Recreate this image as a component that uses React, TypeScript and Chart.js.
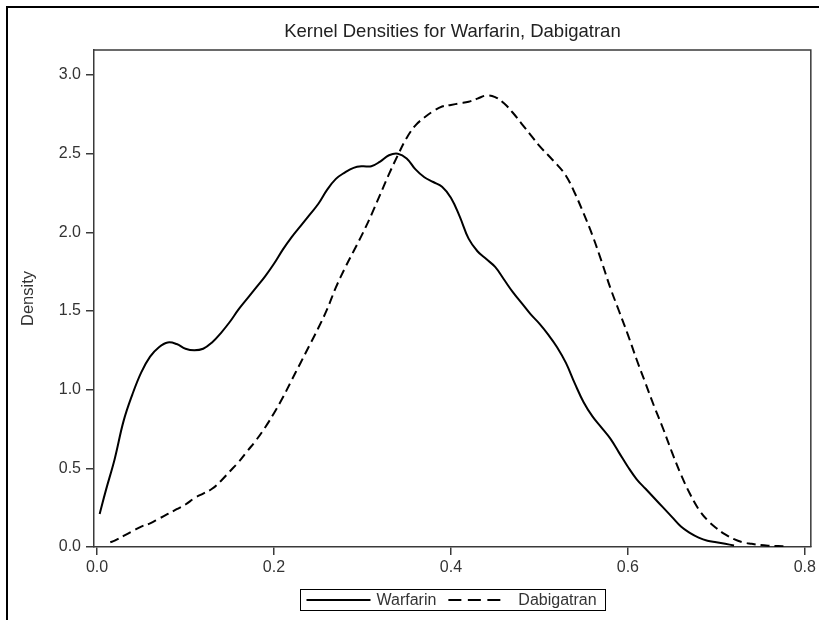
import React, { useEffect, useRef } from 'react';
import { Chart, registerables } from 'chart.js';

Chart.register(...registerables);

const titleText = 'Kernel Densities for Warfarin, Dabigatran';
const yAxisTitle = 'Density';
const seriesNames = ['Warfarin', 'Dabigatran'];
const xTicks = [0, 0.2, 0.4, 0.6, 0.8];
const yTicks = [0, 0.5, 1.0, 1.5, 2.0, 2.5, 3.0];

const warfarinX = [
  0.003, 0.01, 0.02, 0.03, 0.04, 0.05, 0.06, 0.07, 0.08, 0.09,
  0.10, 0.11, 0.12, 0.13, 0.14, 0.15, 0.16, 0.17, 0.18, 0.19,
  0.20, 0.21, 0.22, 0.23, 0.24, 0.25, 0.26, 0.27, 0.28, 0.29,
  0.30, 0.31, 0.32, 0.33, 0.34, 0.35, 0.36, 0.37, 0.38, 0.39,
  0.40, 0.41, 0.42, 0.43, 0.44, 0.45, 0.46, 0.47, 0.48, 0.49,
  0.50, 0.51, 0.52, 0.53, 0.54, 0.55, 0.56, 0.57, 0.58, 0.59,
  0.60, 0.61, 0.62, 0.63, 0.64, 0.65, 0.66, 0.67, 0.68, 0.69,
  0.70, 0.71, 0.72,
];
const warfarinY = [
  0.21, 0.36, 0.56, 0.80, 0.97, 1.11, 1.21, 1.27, 1.30, 1.29,
  1.26, 1.25, 1.26, 1.30, 1.36, 1.43, 1.51, 1.58, 1.65, 1.72,
  1.80, 1.89, 1.97, 2.04, 2.11, 2.18, 2.27, 2.34, 2.38, 2.41,
  2.42, 2.42, 2.45, 2.49, 2.50, 2.47, 2.40, 2.35, 2.32, 2.29,
  2.22, 2.10, 1.96, 1.88, 1.83, 1.78, 1.70, 1.62, 1.55, 1.48,
  1.42, 1.35, 1.27, 1.17, 1.04, 0.92, 0.83, 0.76, 0.69, 0.60,
  0.51, 0.43, 0.37, 0.31, 0.25, 0.19, 0.13, 0.09, 0.06, 0.04,
  0.03, 0.02, 0.01,
];

const dabigatranX = [
  0.015, 0.02, 0.03, 0.04, 0.05, 0.06, 0.07, 0.08, 0.09,
  0.10, 0.11, 0.12, 0.13, 0.14, 0.15, 0.16, 0.17, 0.18, 0.19,
  0.20, 0.21, 0.22, 0.23, 0.24, 0.25, 0.26, 0.27, 0.28, 0.29,
  0.30, 0.31, 0.32, 0.33, 0.34, 0.35, 0.36, 0.37, 0.38, 0.39,
  0.40, 0.41, 0.42, 0.43, 0.44, 0.45, 0.46, 0.47, 0.48, 0.49,
  0.50, 0.51, 0.52, 0.53, 0.54, 0.55, 0.56, 0.57, 0.58, 0.59,
  0.60, 0.61, 0.62, 0.63, 0.64, 0.65, 0.66, 0.67, 0.68, 0.69,
  0.70, 0.71, 0.72, 0.73, 0.74, 0.75, 0.76, 0.77, 0.78,
];
const dabigatranY = [
  0.03, 0.04, 0.07, 0.10, 0.13, 0.15, 0.18, 0.21, 0.24,
  0.27, 0.31, 0.34, 0.37, 0.42, 0.48, 0.54, 0.61, 0.68, 0.76,
  0.85, 0.95, 1.06, 1.17, 1.28, 1.39, 1.51, 1.65, 1.77, 1.88,
  1.99, 2.11, 2.24, 2.37, 2.49, 2.60, 2.68, 2.73, 2.77, 2.80,
  2.81, 2.82, 2.83, 2.85, 2.87, 2.86, 2.82, 2.76, 2.69, 2.62,
  2.55, 2.49, 2.43, 2.36, 2.25, 2.12, 1.98, 1.82, 1.65, 1.50,
  1.35, 1.19, 1.04, 0.89, 0.75, 0.60, 0.46, 0.34, 0.24, 0.17,
  0.12, 0.08, 0.05, 0.03, 0.02, 0.012, 0.008, 0.006, 0.004,
];

const FONT = "'Liberation Sans', Arial, sans-serif";
const TEXT_COLOR = '#333333';
const AXIS_COLOR = '#3a3a3a';

const framePlugin = {
  id: 'frameTitleLegend',
  afterDraw(chart: any) {
    const ctx = chart.ctx as CanvasRenderingContext2D;
    const area = chart.chartArea;
    const cx = (area.left + area.right) / 2;
    ctx.save();
    // outer page frame (left + top edges visible)
    ctx.strokeStyle = '#000';
    ctx.lineWidth = 2;
    ctx.beginPath();
    ctx.moveTo(7, 620);
    ctx.lineTo(7, 7);
    ctx.lineTo(819, 7);
    ctx.stroke();
    // plot frame top + right
    ctx.strokeStyle = AXIS_COLOR;
    ctx.lineWidth = 1.5;
    ctx.beginPath();
    ctx.moveTo(area.left, area.top);
    ctx.lineTo(area.right, area.top);
    ctx.lineTo(area.right, area.bottom);
    ctx.stroke();

    // title
    ctx.font = `18.5px ${FONT}`;
    ctx.fillStyle = '#222';
    ctx.textAlign = 'center';
    ctx.textBaseline = 'middle';
    ctx.fillText(titleText, cx, 32);

    // legend box
    ctx.font = `16px ${FONT}`;
    const ds = chart.data.datasets;
    const sampleSlot = 64;
    const sampleLen = [64, 53];
    const gapLineText = 6;
    const gapItems = 12;
    const padL = 6;
    const padR = 9;
    const widths = ds.map((d: any) => ctx.measureText(d.label).width);
    let total = padL + padR;
    ds.forEach((_: any, i: number) => {
      total += sampleSlot + gapLineText + widths[i];
      if (i < ds.length - 1) total += gapItems;
    });
    const boxLeft = Math.round(cx - total / 2) + 0.5;
    const boxTop = 589.5;
    const boxH = 21;
    ctx.strokeStyle = '#000';
    ctx.lineWidth = 1;
    ctx.strokeRect(boxLeft, boxTop, Math.round(total), boxH);
    let x = boxLeft + padL;
    const midY = boxTop + boxH / 2;
    ds.forEach((d: any, i: number) => {
      ctx.strokeStyle = '#000';
      ctx.lineWidth = 2;
      ctx.setLineDash(i === 1 ? [13, 6.5] : []);
      ctx.beginPath();
      ctx.moveTo(x, midY);
      ctx.lineTo(x + sampleLen[i], midY);
      ctx.stroke();
      ctx.setLineDash([]);
      x += sampleSlot + gapLineText;
      ctx.fillStyle = TEXT_COLOR;
      ctx.textBaseline = 'middle';
      ctx.textAlign = 'left';
      ctx.fillText(d.label, x, midY + 1);
      x += widths[i] + gapItems;
    });
    ctx.restore();
  },
};

export default function App() {
  const canvasRef = useRef<HTMLCanvasElement | null>(null);

  useEffect(() => {
    const canvas = canvasRef.current;
    if (!canvas) return;
    const chart = new Chart(canvas, {
      type: 'line',
      data: {
        datasets: [
          {
            label: seriesNames[0],
            data: warfarinX.map((x, i) => ({ x, y: warfarinY[i] })),
            borderColor: '#000',
            borderWidth: 2,
            pointRadius: 0,
            tension: 0.4,
            fill: false,
          },
          {
            label: seriesNames[1],
            data: dabigatranX.map((x, i) => ({ x, y: dabigatranY[i] })),
            borderColor: '#000',
            borderWidth: 2,
            borderDash: [9, 5],
            pointRadius: 0,
            tension: 0.4,
            fill: false,
          },
        ],
      },
      options: {
        animation: false,
        responsive: false,
        maintainAspectRatio: false,
        layout: { padding: { top: 50, right: 8, left: 0, bottom: 0 } },
        plugins: {
          legend: { display: false },
          tooltip: { enabled: false },
          title: { display: false },
        },
        scales: {
          x: {
            type: 'linear',
            min: -0.0034,
            max: 0.8068,
            afterFit: (s: any) => {
              s.height = 73;
            },
            afterBuildTicks: (s: any) => {
              s.ticks = xTicks.map((v) => ({ value: v }));
            },
            grid: {
              drawOnChartArea: false,
              drawTicks: true,
              tickLength: 8,
              color: AXIS_COLOR,
              lineWidth: 1.5,
            },
            border: { color: AXIS_COLOR, width: 1.5 },
            ticks: {
              autoSkip: false,
              maxRotation: 0,
              padding: 3,
              color: TEXT_COLOR,
              font: { family: FONT, size: 16 },
              callback: (v: any) => Number(v).toFixed(1),
            },
          },
          y: {
            type: 'linear',
            min: 0,
            max: 3.159,
            afterFit: (s: any) => {
              s.width = 94;
            },
            afterBuildTicks: (s: any) => {
              s.ticks = yTicks.map((v) => ({ value: v }));
            },
            grid: {
              drawOnChartArea: false,
              drawTicks: true,
              tickLength: 8,
              color: AXIS_COLOR,
              lineWidth: 1.5,
            },
            border: { color: AXIS_COLOR, width: 1.5 },
            title: {
              display: true,
              text: yAxisTitle,
              color: TEXT_COLOR,
              font: { family: FONT, size: 16.5 },
              padding: { top: 19, bottom: 0 },
            },
            ticks: {
              padding: 5,
              color: TEXT_COLOR,
              font: { family: FONT, size: 16 },
              callback: (v: any) => Number(v).toFixed(1),
            },
          },
        },
      },
      plugins: [framePlugin],
    });
    return () => chart.destroy();
  }, []);

  return (
    <div style={{ position: 'absolute', left: 0, top: 0, width: 819, height: 620, background: '#fff' }}>
      <canvas ref={canvasRef} width={819} height={620} style={{ display: 'block', width: 819, height: 620 }} />
    </div>
  );
}
